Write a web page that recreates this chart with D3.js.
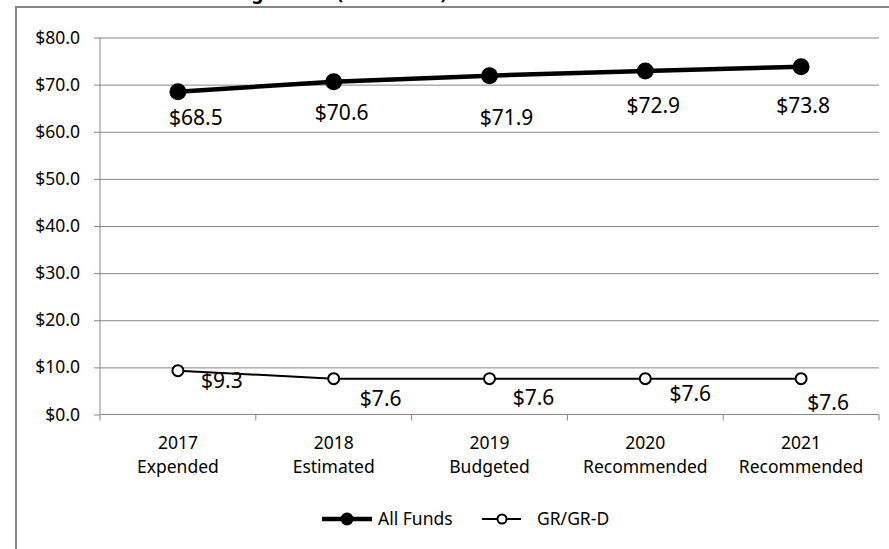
<!DOCTYPE html>
<html>
<head>
<meta charset="utf-8">
<script src="https://cdn.jsdelivr.net/npm/d3@7"></script>
<style>
    body { margin: 0; background: #fff; }
    svg { display: block; font-family: "Noto Sans", "Open Sans", sans-serif; }
</style>
</head>
<body>
<svg id="chart"></svg>
<script>
// data (in millions)
let years = ['2017', '2018', '2019', '2020', '2021'];
let stages = ['Expended', 'Estimated', 'Budgeted', 'Recommended', 'Recommended'];
let allFunds = [68.5, 70.6, 71.9, 72.9, 73.8];
let grFunds = [9.3, 7.6, 7.6, 7.6, 7.6];
let yTicks = [0, 10, 20, 30, 40, 50, 60, 70, 80];
let seriesNames = ['All Funds', 'GR/GR-D'];

// hand placed labels in the original, nudges from the point in px
let allNudge = [[18, 26], [8, 31], [17, 42], [8, 35], [2, 39]];
let grNudge = [[44, 10], [47, 20], [44, 19], [45, 15], [27, 24]];

let width = 889;
let height = 549;
let margin = {
    top: 37.5,
    bot: 134.5,
    left: 100,
    right: 10
};
let config = {
    margin: margin,
    bodyWidth: width - margin.left - margin.right,
    bodyHeight: height - margin.top - margin.bot
};

let svg = d3.select('#chart')
    .attr('width', width)
    .attr('height', height);

let axisColor = '#868686';
let fontFam = '"Noto Sans", "Open Sans", sans-serif';
let fmt = d3.format('$.1f');

// outer chart frame, bigger than the cropped picture
svg.append('rect')
    .attr('x', 16)
    .attr('y', 7)
    .attr('width', width + 40)
    .attr('height', height + 40)
    .attr('fill', 'none')
    .attr('stroke', axisColor)
    .attr('stroke-width', 2);

// title, cut off at the top like in the original
svg.append('text')
    .attr('x', 447)
    .attr('y', -1)
    .attr('text-anchor', 'end')
    .style('font-weight', 'bold')
    .style('font-size', '19px')
    .text('Funding Trends (in Millions)');

let body = svg.append('g')
    .attr('transform', `translate(${margin.left},${margin.top})`);

let xScale = d3.scaleBand()
    .domain(years)
    .range([0, config.bodyWidth]);
let yScale = d3.scaleLinear()
    .domain([0, 80])
    .range([config.bodyHeight, 0]);

// gridlines
body.append('g')
    .call(d3.axisLeft(yScale).tickValues(yTicks.slice(1)).tickSize(-config.bodyWidth).tickFormat(''))
    .call(g => g.select('.domain').remove())
    .selectAll('line')
    .attr('stroke', axisColor);

// y axis
let yAx = body.append('g')
    .call(d3.axisLeft(yScale).tickValues(yTicks).tickSize(6).tickPadding(14).tickFormat(fmt))
    .attr('font-family', fontFam)
    .attr('font-size', 17.5);
yAx.select('.domain').attr('stroke', axisColor).attr('d', `M0,${config.bodyHeight}V0`);
yAx.selectAll('line').attr('stroke', axisColor);
yAx.selectAll('text').attr('fill', '#000');

// x axis
let xAx = body.append('g')
    .attr('transform', `translate(0,${config.bodyHeight})`)
    .call(d3.axisBottom(xScale).tickSize(0).tickPadding(0).tickFormat(''))
    .attr('font-family', fontFam)
    .attr('font-size', 17.5);
xAx.select('.domain').attr('stroke', axisColor).attr('d', `M0,0H${config.bodyWidth}`);
xAx.selectAll('.tick').remove();

let bounds = years.map(d => xScale(d)).concat([config.bodyWidth]);
xAx.selectAll('line.bound')
    .data(bounds)
    .join('line')
    .attr('class', 'bound')
    .attr('x1', d => d)
    .attr('x2', d => d)
    .attr('y1', 0)
    .attr('y2', 6)
    .attr('stroke', axisColor);

let cx = d => xScale(d) + xScale.bandwidth() / 2;

let catLabels = xAx.selectAll('text.cat')
    .data(years)
    .join('text')
    .attr('class', 'cat')
    .attr('text-anchor', 'middle')
    .attr('fill', '#000');
catLabels.append('tspan')
    .attr('x', d => cx(d))
    .attr('y', 28.5)
    .attr('dy', '0.35em')
    .text(d => d);
catLabels.append('tspan')
    .attr('x', d => cx(d))
    .attr('y', 52.5)
    .attr('dy', '0.35em')
    .text((d, i) => stages[i]);

// lines
let line = d3.line()
    .x((d, i) => cx(years[i]))
    .y(d => yScale(d));

body.append('path')
    .datum(grFunds)
    .attr('d', line)
    .attr('fill', 'none')
    .attr('stroke', '#000')
    .attr('stroke-width', 2);

body.append('path')
    .datum(allFunds)
    .attr('d', line)
    .attr('fill', 'none')
    .attr('stroke', '#000')
    .attr('stroke-width', 4.5);

body.selectAll('circle.gr')
    .data(grFunds)
    .join('circle')
    .attr('class', 'gr')
    .attr('cx', (d, i) => cx(years[i]))
    .attr('cy', d => yScale(d))
    .attr('r', 5.5)
    .attr('fill', '#fff')
    .attr('stroke', '#000')
    .attr('stroke-width', 2);

body.selectAll('circle.all')
    .data(allFunds)
    .join('circle')
    .attr('class', 'all')
    .attr('cx', (d, i) => cx(years[i]))
    .attr('cy', d => yScale(d))
    .attr('r', 8.5)
    .attr('fill', '#000');

// data labels
body.selectAll('text.allLbl')
    .data(allFunds)
    .join('text')
    .attr('class', 'allLbl')
    .attr('x', (d, i) => cx(years[i]) + allNudge[i][0])
    .attr('y', (d, i) => yScale(d) + allNudge[i][1])
    .attr('dy', '0.35em')
    .attr('text-anchor', 'middle')
    .style('font-size', '21px')
    .text(d => fmt(d));

body.selectAll('text.grLbl')
    .data(grFunds)
    .join('text')
    .attr('class', 'grLbl')
    .attr('x', (d, i) => cx(years[i]) + grNudge[i][0])
    .attr('y', (d, i) => yScale(d) + grNudge[i][1])
    .attr('dy', '0.35em')
    .attr('text-anchor', 'middle')
    .style('font-size', '21px')
    .text(d => fmt(d));

// legend
let legend = svg.append('g')
    .attr('transform', 'translate(0,519)');

let l1 = legend.append('g');
l1.append('line')
    .attr('x1', 322).attr('x2', 372)
    .attr('stroke', '#000').attr('stroke-width', 4.5);
l1.append('circle')
    .attr('cx', 347).attr('r', 6.5).attr('fill', '#000');
l1.append('text')
    .attr('x', 378).attr('dy', '0.35em')
    .style('font-size', '17.5px')
    .text(seriesNames[0]);

let l2 = legend.append('g');
l2.append('line')
    .attr('x1', 482).attr('x2', 521)
    .attr('stroke', '#000').attr('stroke-width', 2);
l2.append('circle')
    .attr('cx', 502).attr('r', 4.5)
    .attr('fill', '#fff').attr('stroke', '#000').attr('stroke-width', 2);
l2.append('text')
    .attr('x', 537).attr('dy', '0.35em')
    .style('font-size', '17.5px')
    .text(seriesNames[1]);
</script>
</body>
</html>
